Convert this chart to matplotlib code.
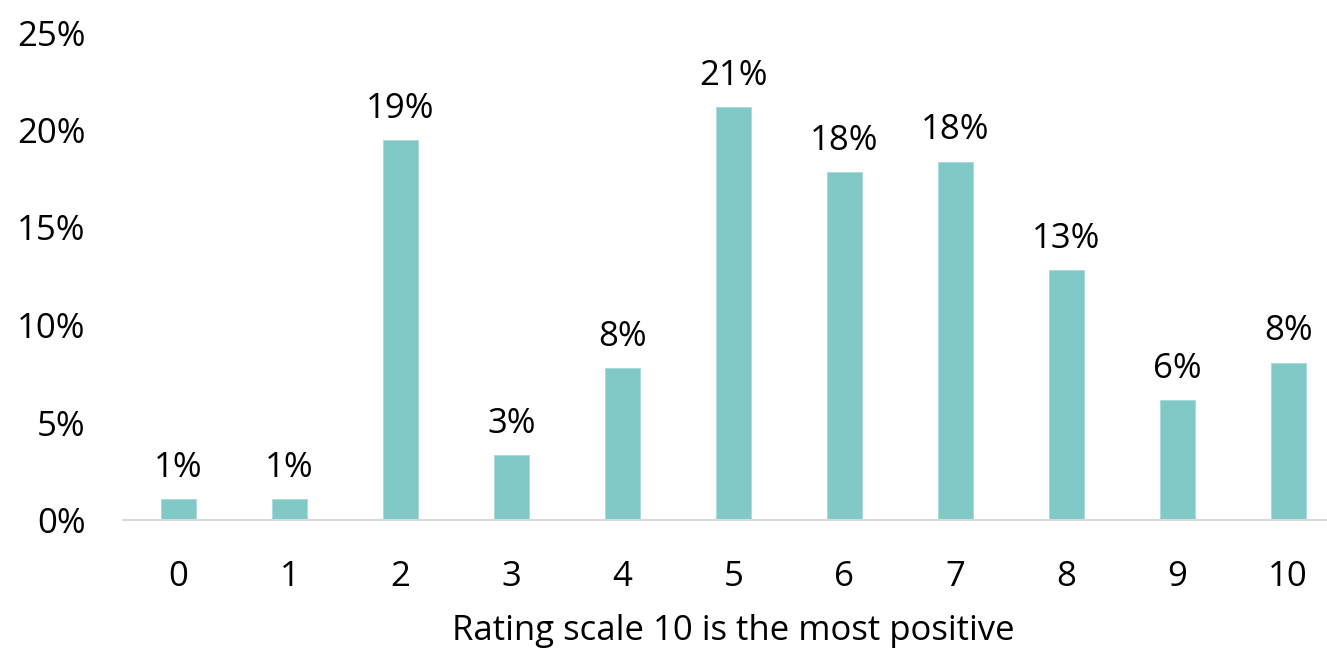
import matplotlib
matplotlib.use("Agg")
import matplotlib.pyplot as plt
import matplotlib.transforms as mtransforms
from matplotlib.ticker import FuncFormatter

# Share of responses for each rating (0 = least positive, 10 = most positive)
ratings = ["0", "1", "2", "3", "4", "5", "6", "7", "8", "9", "10"]
shares = [0.0108, 0.0108, 0.1947, 0.0333, 0.0778, 0.2116, 0.1783, 0.1838, 0.1280, 0.0615, 0.0807]
y_ticks = [0, 0.05, 0.10, 0.15, 0.20, 0.25]
x_title = "Rating scale 10 is the most positive"

plt.rcParams["font.family"] = ["Open Sans", "DejaVu Sans"]
FS = 25

W, H, DPI = 1327, 653, 100
fig = plt.figure(figsize=(W / DPI, H / DPI), dpi=DPI)

x_min, x_max = -0.5, 10.35
left_px, right_px = 123, 1327
zero_px, top_px = 520, 32.5
ax = fig.add_axes([left_px / W, 1 - zero_px / H,
                   (right_px - left_px) / W, (zero_px - top_px) / H])

positions = range(len(ratings))
bars = ax.bar(positions, shares, width=0.315, color="#81C9C7",
              edgecolor="#A6DAD8", linewidth=0.6, zorder=2)

for rect, val in zip(bars, shares):
    ax.annotate(f"{round(val * 100):.0f}%",
                xy=(rect.get_x() + rect.get_width() / 2, val),
                xytext=(0, 16), textcoords="offset points",
                ha="center", va="baseline", fontsize=FS, color="#000000")

ax.set_xlim(x_min, x_max)
ax.set_ylim(0, 0.25)
ax.set_yticks(y_ticks)
ax.yaxis.set_major_formatter(FuncFormatter(lambda v, _: f"{v * 100:.0f}%"))
ax.set_xticks(list(positions))
ax.set_xticklabels(ratings)

ax.tick_params(axis="both", length=0, labelsize=FS, colors="#000000")
ax.tick_params(axis="x", pad=29)
ax.tick_params(axis="y", pad=27)

for side in ("top", "right", "left"):
    ax.spines[side].set_visible(False)
ax.spines["bottom"].set_color("#D9D9D9")
ax.spines["bottom"].set_linewidth(1.5)
ax.spines["bottom"].set_zorder(3)

# Axis title centred under the category range
trans = mtransforms.blended_transform_factory(ax.transData, ax.transAxes)
ax.text(5, -120 / (zero_px - top_px), x_title, transform=trans,
        ha="center", va="baseline", fontsize=FS, color="#000000")

fig.savefig("out.png", dpi=DPI, facecolor="white")
